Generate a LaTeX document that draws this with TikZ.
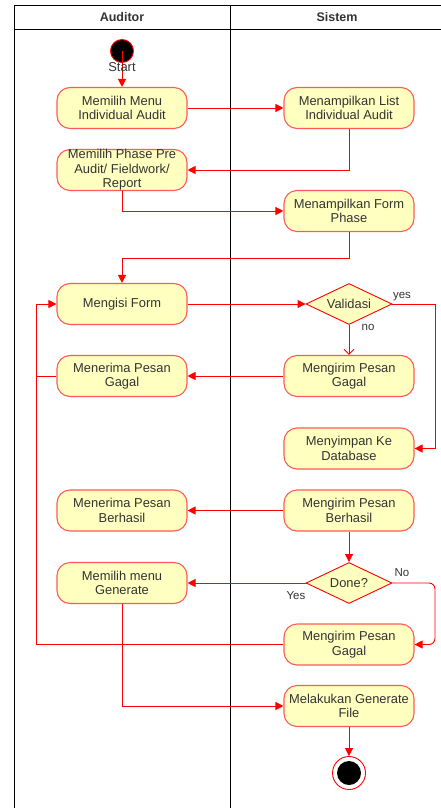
\documentclass[tikz,border=0pt]{standalone}
\usepackage{fontspec}
\setmainfont{Liberation Sans}
\usetikzlibrary{arrows.meta,shapes.geometric}
\definecolor{actfill}{HTML}{FFFFC0}
\definecolor{actline}{HTML}{FF5A5A}
\definecolor{flowred}{HTML}{FF0000}
\definecolor{txt}{HTML}{333333}
\begin{document}
\begin{tikzpicture}[x=1pt,y=-1pt,
  lane/.style={draw=black,line width=0.9pt},
  action/.style={draw=actline,fill=actfill,line width=1.1pt,rounded corners=13pt,
    minimum width=130pt,minimum height=41pt,align=center,text=txt,
    font=\fontsize{12.9}{14.4}\selectfont,inner sep=0pt},
  decision/.style={diamond,draw=flowred,fill=actfill,line width=0.9pt,
    minimum width=86pt,minimum height=41pt,aspect=2,inner sep=0pt,text=txt,
    font=\fontsize{12.9}{14.4}\selectfont},
  flowline/.style={draw=flowred,line width=0.9pt},
  flow/.style={flowline,-{Triangle[length=8pt,width=8pt]}},
  openflow/.style={flowline,-{Straight Barb[length=5pt,width=10pt]}},
  guard/.style={text=txt,font=\fontsize{11.5}{13}\selectfont,inner sep=0pt},
  header/.style={text=txt,font=\bfseries\fontsize{12.5}{14}\selectfont}]
\useasboundingbox (0,0) rectangle (441,808);
\clip (0,0) rectangle (441,808);

% swimlane frame
\draw[lane] (14.7,830) -- (14.7,5.3) -- (450,5.3);
\draw[lane] (230,5.3) -- (230,830);
\draw[lane] (14.7,29) -- (450,29);
\node[header] (hA) at (122,17) {Auditor};
\node[header] (hS) at (337,17) {Sistem};

% activities
\node[circle,fill=black,draw=flowred,line width=0.9pt,minimum size=23pt,inner sep=0pt] (start) at (122,51) {};
\node[action] (a1) at (122,108) {Memilih Menu\\Individual Audit};
\node[action] (s1) at (349,108) {Menampilkan List\\Individual Audit};
\node[action] (a2) at (122,170) {Memilih Phase Pre\\Audit/ Fieldwork/\\Report};
\node[action] (s2) at (349,211) {Menampilkan Form\\Phase};
\node[action] (a3) at (122,304) {Mengisi Form};
\node[decision] (d1) at (349,304) {Validasi};
\node[action] (s3) at (349,376) {Mengirim Pesan\\Gagal};
\node[action] (a4) at (122,376) {Menerima Pesan\\Gagal};
\node[action] (s4) at (349,448.5) {Menyimpan Ke\\Database};
\node[action] (s5) at (349,510.5) {Mengirim Pesan\\Berhasil};
\node[action] (a5) at (122,510.5) {Menerima Pesan\\Berhasil};
\node[decision] (d2) at (349,583) {Done?};
\node[action] (a6) at (122,583) {Memilih menu\\Generate};
\node[action] (s6) at (349,644.5) {Mengirim Pesan\\Gagal};
\node[action] (s7) at (349,706) {Melakukan Generate\\File};
\node[circle,draw=flowred,fill=white,line width=0.9pt,minimum size=33pt,inner sep=0pt] (end) at (349,773) {};
\node[circle,fill=black,minimum size=24pt,inner sep=0pt] (endcore) at (end) {};

% routing points
\coordinate (j1) at (349,258);
\coordinate (yesx) at (435,304);
\coordinate (nox) at (435,583);
\coordinate (loop1) at (36,376);
\coordinate (loop2) at (36,644.5);

% control flow
\draw[flow] (start.center) -- (a1.north);
\node[text=txt,font=\fontsize{12.9}{14}\selectfont,inner sep=0pt] (startlbl) at (122,67) {Start};
\draw[flow] (a1.east) -- (s1.west);
\draw[flow] (s1.south) |- (a2.east);
\draw[flow] (a2.south) |- (s2.west);
\draw[flow] (s2.south) -- (j1) -| (a3.north);
\draw[flow] (a3.east) -- (d1.west);
\draw[flow] (d1.east) -- (yesx) |- (s4.east);
\node[guard] (lyes) at (402,297) {yes};
\draw[openflow] (d1.south) -- (s3.north);
\node[guard] (lno) at (368,327) {no};
\draw[flow] (s3.west) -- (a4.east);
\draw[flow] (a4.west) -- (loop1) |- (a3.west);
\draw[flowline] (s6.west) -- (loop2) -- (loop1);
\draw[flow] (s5.west) -- (a5.east);
\draw[flow] (s5.south) -- (d2.north);
\draw[flow] (d2.west) -- (a6.east);
\node[guard] (lYes) at (296,596) {Yes};
\draw[flow,rounded corners=6pt] (d2.east) -- (nox) |- (s6.east);
\node[guard] (lNo) at (402,573) {No};
\draw[flow] (a6.south) |- (s7.west);
\draw[flow] (s7.south) -- (end.north);
\end{tikzpicture}
\end{document}
